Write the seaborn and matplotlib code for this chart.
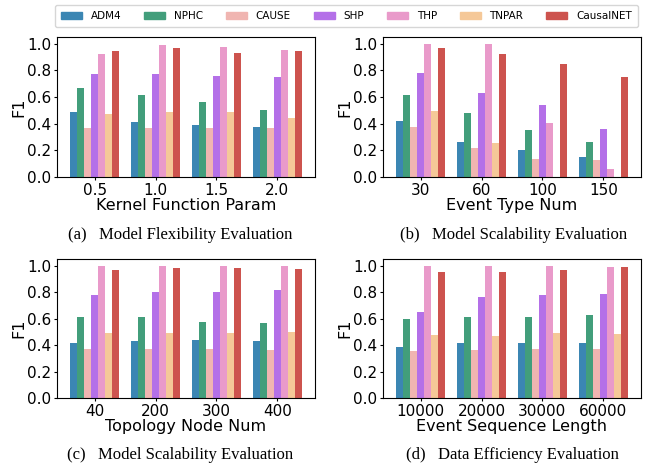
import pandas as pd
import numpy as np
import matplotlib.pyplot as plt
import seaborn as sns

# --- data ---
methods = ['ADM4', 'NPHC', 'CAUSE', 'SHP', 'THP', 'TNPAR', 'CausalNET']
colors = ['#3b86b3', '#429e7b', '#f0b5b1', '#b470e8', '#e99aca', '#f5c898', '#cd534e']

# (a) kernel function param
kernel_params = ['0.5', '1.0', '1.5', '2.0']
f1_kernel = {
    'ADM4':      [0.484, 0.416, 0.387, 0.372],
    'NPHC':      [0.671, 0.618, 0.559, 0.499],
    'CAUSE':     [0.364, 0.369, 0.364, 0.364],
    'SHP':       [0.776, 0.776, 0.761, 0.753],
    'THP':       [0.925, 0.993, 0.978, 0.955],
    'TNPAR':     [0.469, 0.491, 0.491, 0.446],
    'CausalNET': [0.943, 0.970, 0.933, 0.948],
}

# (b) event type num
event_types = ['30', '60', '100', '150']
f1_event_type = {
    'ADM4':      [0.417, 0.266, 0.206, 0.153],
    'NPHC':      [0.613, 0.477, 0.349, 0.266],
    'CAUSE':     [0.372, 0.214, 0.138, 0.126],
    'SHP':       [0.779, 0.628, 0.540, 0.357],
    'THP':       [1.000, 1.000, 0.402, 0.063],
    'TNPAR':     [0.492, 0.254, np.nan, np.nan],
    'CausalNET': [0.970, 0.925, 0.849, 0.751],
}

# (c) topology node num
node_nums = ['40', '200', '300', '400']
f1_nodes = {
    'ADM4':      [0.418, 0.433, 0.441, 0.433],
    'NPHC':      [0.615, 0.615, 0.577, 0.569],
    'CAUSE':     [0.373, 0.373, 0.373, 0.365],
    'SHP':       [0.781, 0.804, 0.804, 0.814],
    'THP':       [1.000, 1.000, 1.000, 1.000],
    'TNPAR':     [0.494, 0.494, 0.494, 0.501],
    'CausalNET': [0.970, 0.985, 0.985, 0.977],
}

# (d) event sequence length
seq_lengths = ['10000', '20000', '30000', '60000']
f1_seq = {
    'ADM4':      [0.388, 0.418, 0.418, 0.418],
    'NPHC':      [0.600, 0.615, 0.615, 0.630],
    'CAUSE':     [0.358, 0.365, 0.373, 0.373],
    'SHP':       [0.652, 0.766, 0.781, 0.788],
    'THP':       [1.000, 1.000, 1.000, 0.992],
    'TNPAR':     [0.479, 0.466, 0.494, 0.486],
    'CausalNET': [0.955, 0.955, 0.970, 0.992],
}


def to_long(cats, values):
    rows = []
    for m in methods:
        for c, v in zip(cats, values[m]):
            rows.append({'cat': c, 'method': m, 'F1': v})
    return pd.DataFrame(rows)


panels = [
    (kernel_params, f1_kernel, 'Kernel Function Param', '(a)   Model Flexibility Evaluation'),
    (event_types, f1_event_type, 'Event Type Num', '(b)   Model Scalability Evaluation'),
    (node_nums, f1_nodes, 'Topology Node Num', '(c)   Model Scalability Evaluation'),
    (seq_lengths, f1_seq, 'Event Sequence Length', '(d)   Data Efficiency Evaluation'),
]

fig = plt.figure(figsize=(6.51, 4.68), dpi=100)
W, H = 651, 468
# axes boxes in pixels: left, top, right, bottom
boxes = [(57, 37, 315, 177), (383, 37, 641, 177),
         (57, 259, 315, 398), (383, 259, 641, 398)]
caption_x = [180, 514, 180, 512]
caption_y = [235, 235, 455, 455]

palette = dict(zip(methods, colors))
for i, (cats, vals, xlabel, caption) in enumerate(panels):
    l, t, r, b = boxes[i]
    ax = fig.add_axes([l / W, 1 - b / H, (r - l) / W, (b - t) / H])
    df = to_long(cats, vals)
    sns.barplot(data=df, x='cat', y='F1', hue='method', hue_order=methods,
                order=cats, palette=palette, saturation=1, width=0.8,
                errorbar=None, ax=ax, legend=False)
    ax.set_xlim(-0.62, 3.62)
    ax.set_ylim(0, 1.05)
    ax.set_yticks([0, 0.2, 0.4, 0.6, 0.8, 1.0])
    ax.tick_params(labelsize=11, length=2.5, pad=1.5)
    ax.set_xlabel(xlabel, fontsize=11.5, labelpad=0.5)
    ax.set_ylabel('F1', fontsize=11.5, labelpad=0.5)
    fig.text(caption_x[i] / W, 1 - caption_y[i] / H, caption,
             ha='center', va='center', fontsize=12, family='Liberation Serif')

handles = [plt.Rectangle((0, 0), 1, 1, color=c) for c in colors]
fig.legend(handles, methods, loc='upper center', bbox_to_anchor=(0.532, 0.99),
           ncol=7, fontsize=7.5, frameon=True, columnspacing=2.2,
           handlelength=2.0, handletextpad=0.85, borderpad=0.6, borderaxespad=0)

fig.savefig('out.png', dpi=100)
